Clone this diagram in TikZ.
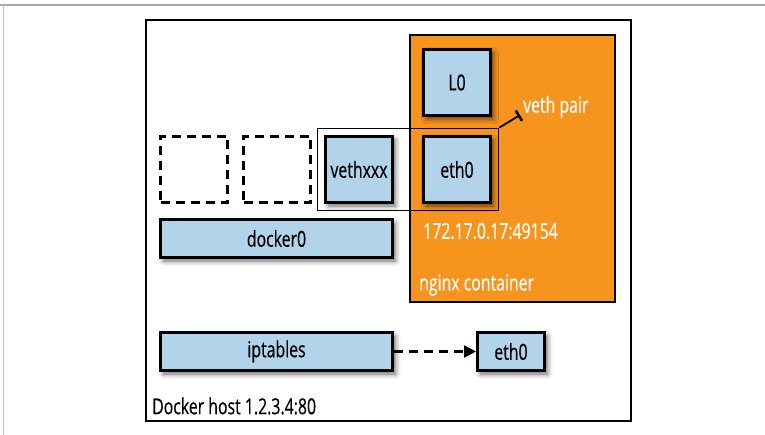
\documentclass[tikz,border=0pt]{standalone}
\usepackage{fontspec}
\setmainfont[FakeStretch=0.72,FakeBold=0.4]{Open Sans}
\usepackage{tikz}
\usetikzlibrary{positioning,fit,shadows.blur,arrows.meta}
\definecolor{ifblue}{HTML}{B2D4EA}
\definecolor{nginxorange}{HTML}{F7941D}

\begin{document}
\begin{tikzpicture}[x=1pt,y=-1pt,font=\fontsize{22}{25}\selectfont,
		iface/.style={draw,fill=ifblue,line width=3pt,inner sep=0pt,
			minimum width=67pt,minimum height=66pt,
			blur shadow={shadow xshift=3pt,shadow yshift=-3.5pt,shadow blur radius=5pt,shadow opacity=60}},
		widebox/.style={iface,minimum width=232pt,minimum height=38pt},
		ghost/.style={draw,dash pattern=on 9pt off 6pt,line width=2.6pt,
			minimum width=67pt,minimum height=66pt},
		pairbox/.style={draw,line width=1.7pt,inner sep=7pt},
		whitelabel/.style={text=white,anchor=west,inner sep=0pt}]
		\useasboundingbox (0,0) rectangle (765,435);
		% frame of the screenshot
		\draw[gray!70,line width=1.6pt] (0,5) -- (765,5);
		\draw[gray!50,line width=1.3pt] (3.7,5) -- (3.7,435);
		% host and container
		\draw[line width=2.6pt] (146,20) rectangle (631,421);
		\draw[fill=nginxorange,line width=2.6pt] (410,35) rectangle (615,302);
		% interfaces
		\node[iface] (if_lo) at (457,82.5) {L0};
		\node[iface] (if_eth) at (457,169.5) {eth0};
		\node[iface] (if_veth) at (359,169.5) {vethxxx};
		\node[ghost] (ghost_1) at (194,169.5) {};
		\node[ghost] (ghost_2) at (277,169.5) {};
		\node[pairbox,fit=(if_veth)(if_eth),inner sep=6.5pt] (vpair) {};
		\node[widebox] (br_docker) at (276.5,238.5) {docker0};
		\node[widebox] (ipt) at (276.5,351.5) {iptables};
		\node[iface,minimum height=38pt] (if_host) at (511,351.5) {eth0};
		% labels
		\coordinate (vp_tip) at (520,115);
		\node[whitelabel] (lbl_pair) at (523,107) {veth pair};
		\node[whitelabel] (lbl_addr) at (423,231) {172.17.0.17:49154};
		\node[whitelabel] (lbl_nginx) at (419,285) {nginx container};
		\node[anchor=west,inner sep=0pt] (lbl_host) at (152,406) {Docker host 1.2.3.4:80};
		% connectors
		\draw[line width=1.8pt,-{Bar[width=12pt,line width=2.6pt]}] (vpair.north east) -- (vp_tip);
		\draw[line width=2.4pt,dash pattern=on 9pt off 6pt,-{Triangle[length=12pt,width=12pt]}] (ipt) -- (if_host);
	\end{tikzpicture}
\end{document}
